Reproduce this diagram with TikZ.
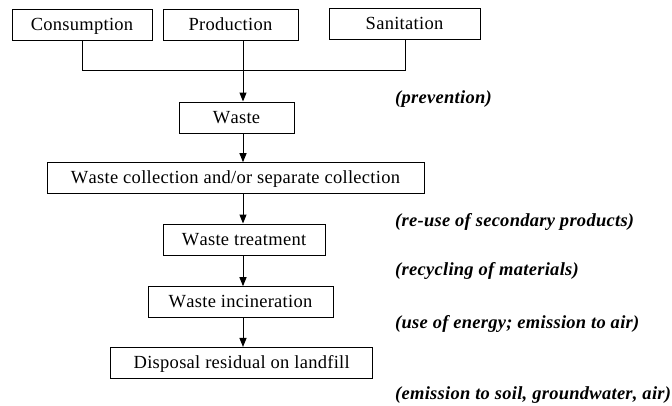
\documentclass[tikz,border=0pt]{standalone}
\usepackage{fontspec}
\setmainfont{Liberation Serif}[Kerning=Off,LetterSpace=1.5]
\usetikzlibrary{arrows.meta}
\begin{document}
\begin{tikzpicture}[x=1pt,y=-1pt,
  box/.style={draw=black,line width=1pt,rectangle,inner sep=0pt,
    text height=14pt,text depth=3pt,
    font=\fontsize{18.5}{20}\selectfont},
  lbl/.style={anchor=west,inner sep=0pt,text height=13pt,text depth=4pt,
    font=\fontsize{18.5}{20}\selectfont\bfseries\itshape},
  conn/.style={line width=1pt},
  arr/.style={line width=1pt,-{Triangle[width=7pt,length=9pt]}}]
\useasboundingbox (0,0) rectangle (672,405);
\node[box,minimum width=140pt,minimum height=31pt] (cons) at (82,24.5) {Consumption};
\node[box,minimum width=135pt,minimum height=31pt] (prod) at (230.5,24.5) {Production};
\node[box,minimum width=151pt,minimum height=31pt] (sani) at (404.5,24) {Sanitation};
\node[box,minimum width=115pt,minimum height=31pt] (waste) at (236.5,117.5) {Waste};
\node[box,minimum width=377pt,minimum height=30.6pt] (coll) at (235.5,178) {Waste collection and/or separate collection};
\node[box,minimum width=162pt,minimum height=31pt] (treat) at (244,239.5) {Waste treatment};
\node[box,minimum width=185pt,minimum height=30.6pt] (inc) at (240.5,302) {Waste incineration};
\node[box,minimum width=262pt,minimum height=31.5pt] (disp) at (241.7,363.2) {Disposal residual on landfill};
\coordinate (jl) at (82,70);
\coordinate (jm) at (243,70);
\coordinate (jr) at (405,70);
\draw[conn] (cons.south) -- (jl) -- (jr) -- (jr |- sani.south);
\draw[conn] (jm |- prod.south) -- (jm);
\draw[arr] (jm) -- (jm |- waste.north);
\draw[arr] (jm |- waste.south) -- (jm |- coll.north);
\draw[arr] (jm |- coll.south) -- (jm |- treat.north);
\draw[arr] (jm |- treat.south) -- (jm |- inc.north);
\draw[arr] (jm |- inc.south) -- (jm |- disp.north);
\node[lbl] (l1) at (395,99) {(prevention)};
\node[lbl] (l2) at (395,222) {(re-use of secondary products)};
\node[lbl] (l3) at (395,271) {(recycling of materials)};
\node[lbl] (l4) at (395,324) {(use of energy; emission to air)};
\node[lbl] (l5) at (395,395) {(emission to soil, groundwater, air)};
\end{tikzpicture}
\end{document}
